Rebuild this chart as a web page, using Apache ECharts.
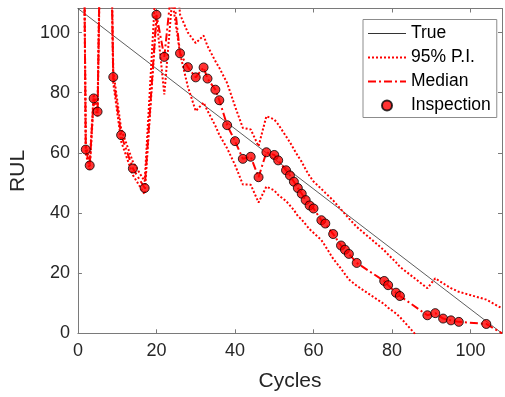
<!DOCTYPE html>
<html>
<head>
<meta charset="utf-8">
<script src="https://cdn.jsdelivr.net/npm/echarts@6/dist/echarts.min.js"></script>
<style>
html,body{margin:0;padding:0;background:#fff;}
#chart{width:505px;height:397px;}
</style>
</head>
<body>
<div id="chart"></div>
<script>
// Cycles at which the prediction is evaluated
const cycles = [1,2,3,4,5,7,9,11,14,17,20,22,24,26,28,30,32,33,35,36,38,40,42,44,46,48,50,51,53,54,55,56,57,58,59,60,62,63,65,67,68,69,71,78,79,81,82,89,91,93,95,97,104,108];
// Median RUL prediction
const median = [220,61.1,55.8,78.1,73.7,245,85.2,65.9,54.8,48.3,105.9,91.9,117,93.1,88.5,85.1,88.4,84.7,81.0,77.5,69.2,63.9,58.0,58.7,51.9,60.2,59.3,57.5,54.2,52.5,50.4,48.3,46.4,44.3,42.5,41.5,37.6,36.5,33.0,29.2,27.8,26.4,23.4,17.4,16.0,13.5,12.4,6.0,6.7,4.9,4.3,3.8,3.1,0];
// 95% prediction interval bounds
const upper = [222,62.5,57.2,79.5,75.2,250,87.2,68,57,50.5,120,115,140,106,100,96.5,99,95.5,90.5,88.3,83.2,75.5,68.3,67.8,62.2,72.2,71.1,69.5,65.5,63.5,61.2,59,57,54.5,52.3,50.5,48,46.7,44.2,41.2,39.7,38.2,35.4,27.6,26.2,23.6,22.1,15.0,18.3,16.6,15.0,13.8,11.2,8.3];
const lower = [218,59.7,54.4,76.6,72.2,240,83.2,63.8,52.6,46.2,105,79.4,111,93,82,73.9,76.7,74,69,66,61.5,56,49.5,49.4,43.5,48.8,47.5,46,44,42.5,41,39,37.8,36.2,34.6,33.4,31,29,24.8,21.5,19.7,17.9,15.8,9.7,8.5,6.6,5.4,-4.8,-7.5,-10,-12.5,-15,-24,-30];
// Inspection cycles (markers)
const inspection = [2,3,4,5,9,11,14,17,20,22,26,28,30,32,33,35,36,38,40,42,44,46,48,50,51,53,54,55,56,57,58,59,60,62,63,65,67,68,69,71,78,79,81,82,89,91,93,95,97,104];
// True RUL line
const trueCycles = [0,108];
const trueRul = [108,0];
// Axis ticks
const xTicks = [0,20,40,60,80,100];
const yTicks = [0,20,40,60,80,100];

const zip = (xs, ys) => xs.map((x, i) => [x, ys[i]]);
const inspData = inspection.map(c => [c, median[cycles.indexOf(c)]]);

const font = 'Liberation Sans, Arial, Helvetica, sans-serif';
const axisColor = '#7a7a7a';
const textColor = '#262626';

function baseAxis(pos, showLabel) {
  return {
    type: 'value', min: 0, max: 108, interval: 20, position: pos,
    axisLine: { show: true, onZero: false, lineStyle: { color: axisColor, width: 1 } },
    axisTick: { show: true, inside: true, length: 4, lineStyle: { color: axisColor, width: 1 } },
    axisLabel: { show: showLabel, fontSize: 18, fontFamily: font, color: textColor,
      formatter: v => (xTicks.indexOf(v) >= 0 ? String(v) : '') },
    splitLine: { show: false }
  };
}

const xBottom = Object.assign(baseAxis('bottom', true), {
  name: 'Cycles', nameLocation: 'middle', nameGap: 37,
  nameTextStyle: { fontSize: 21, fontFamily: font, color: textColor }
});
xBottom.axisLabel.margin = 9;
const xTop = baseAxis('top', false);
const yLeft = Object.assign(baseAxis('left', true), {
  name: 'RUL', nameLocation: 'middle', nameGap: 46,
  nameTextStyle: { fontSize: 21, fontFamily: font, color: textColor }
});
yLeft.axisLabel.formatter = v => (yTicks.indexOf(v) >= 0 ? String(v) : '');
yLeft.axisLabel.margin = 8;
const yRight = baseAxis('right', false);

const hideSym = { opacity: 0 };

const chart = echarts.init(document.getElementById('chart'), null, { renderer: 'canvas' });
chart.setOption({
  animation: false,
  backgroundColor: '#fff',
  grid: { left: 76.5, right: 1, top: 8.5, bottom: 63.7, containLabel: false },
  xAxis: [xBottom, xTop],
  yAxis: [yLeft, yRight],
  legend: {
    data: [
      { name: 'True', itemStyle: hideSym, lineStyle: { width: 1 } },
      { name: '95% P.I.', itemStyle: hideSym },
      { name: 'Median', itemStyle: hideSym },
      { name: 'Inspection' }
    ],
    orient: 'vertical', left: 363, top: 19.5,
    itemWidth: 38, itemHeight: 10, itemGap: 6,
    padding: [5, 6, 3, 4],
    backgroundColor: '#fff', borderColor: '#8c8c8c', borderWidth: 1,
    textStyle: { fontSize: 17.5, fontFamily: font, color: '#000' }
  },
  series: [
    { name: 'True', type: 'line', data: zip(trueCycles, trueRul), symbol: 'none',
      color: '#333', lineStyle: { color: '#333', width: 0.8 }, z: 1 },
    { name: '95% P.I.', type: 'line', data: zip(cycles, upper), symbol: 'none',
      color: '#ff0000', lineStyle: { color: '#ff0000', width: 2, type: [2, 2] }, z: 2 },
    { name: '95% P.I.', type: 'line', data: zip(cycles, lower), symbol: 'none',
      color: '#ff0000', lineStyle: { color: '#ff0000', width: 2, type: [2, 2] }, z: 2 },
    { name: 'Median', type: 'line', data: zip(cycles, median), symbol: 'none',
      color: '#ff0000', lineStyle: { color: '#ff0000', width: 2, type: [8, 3, 2, 3] }, z: 3 },
    { name: 'Inspection', type: 'scatter', data: inspData, symbol: 'circle', symbolSize: 9,
      itemStyle: { color: '#ff0000', borderColor: '#000', borderWidth: 1 }, z: 4 }
  ]
});
</script>
</body>
</html>
